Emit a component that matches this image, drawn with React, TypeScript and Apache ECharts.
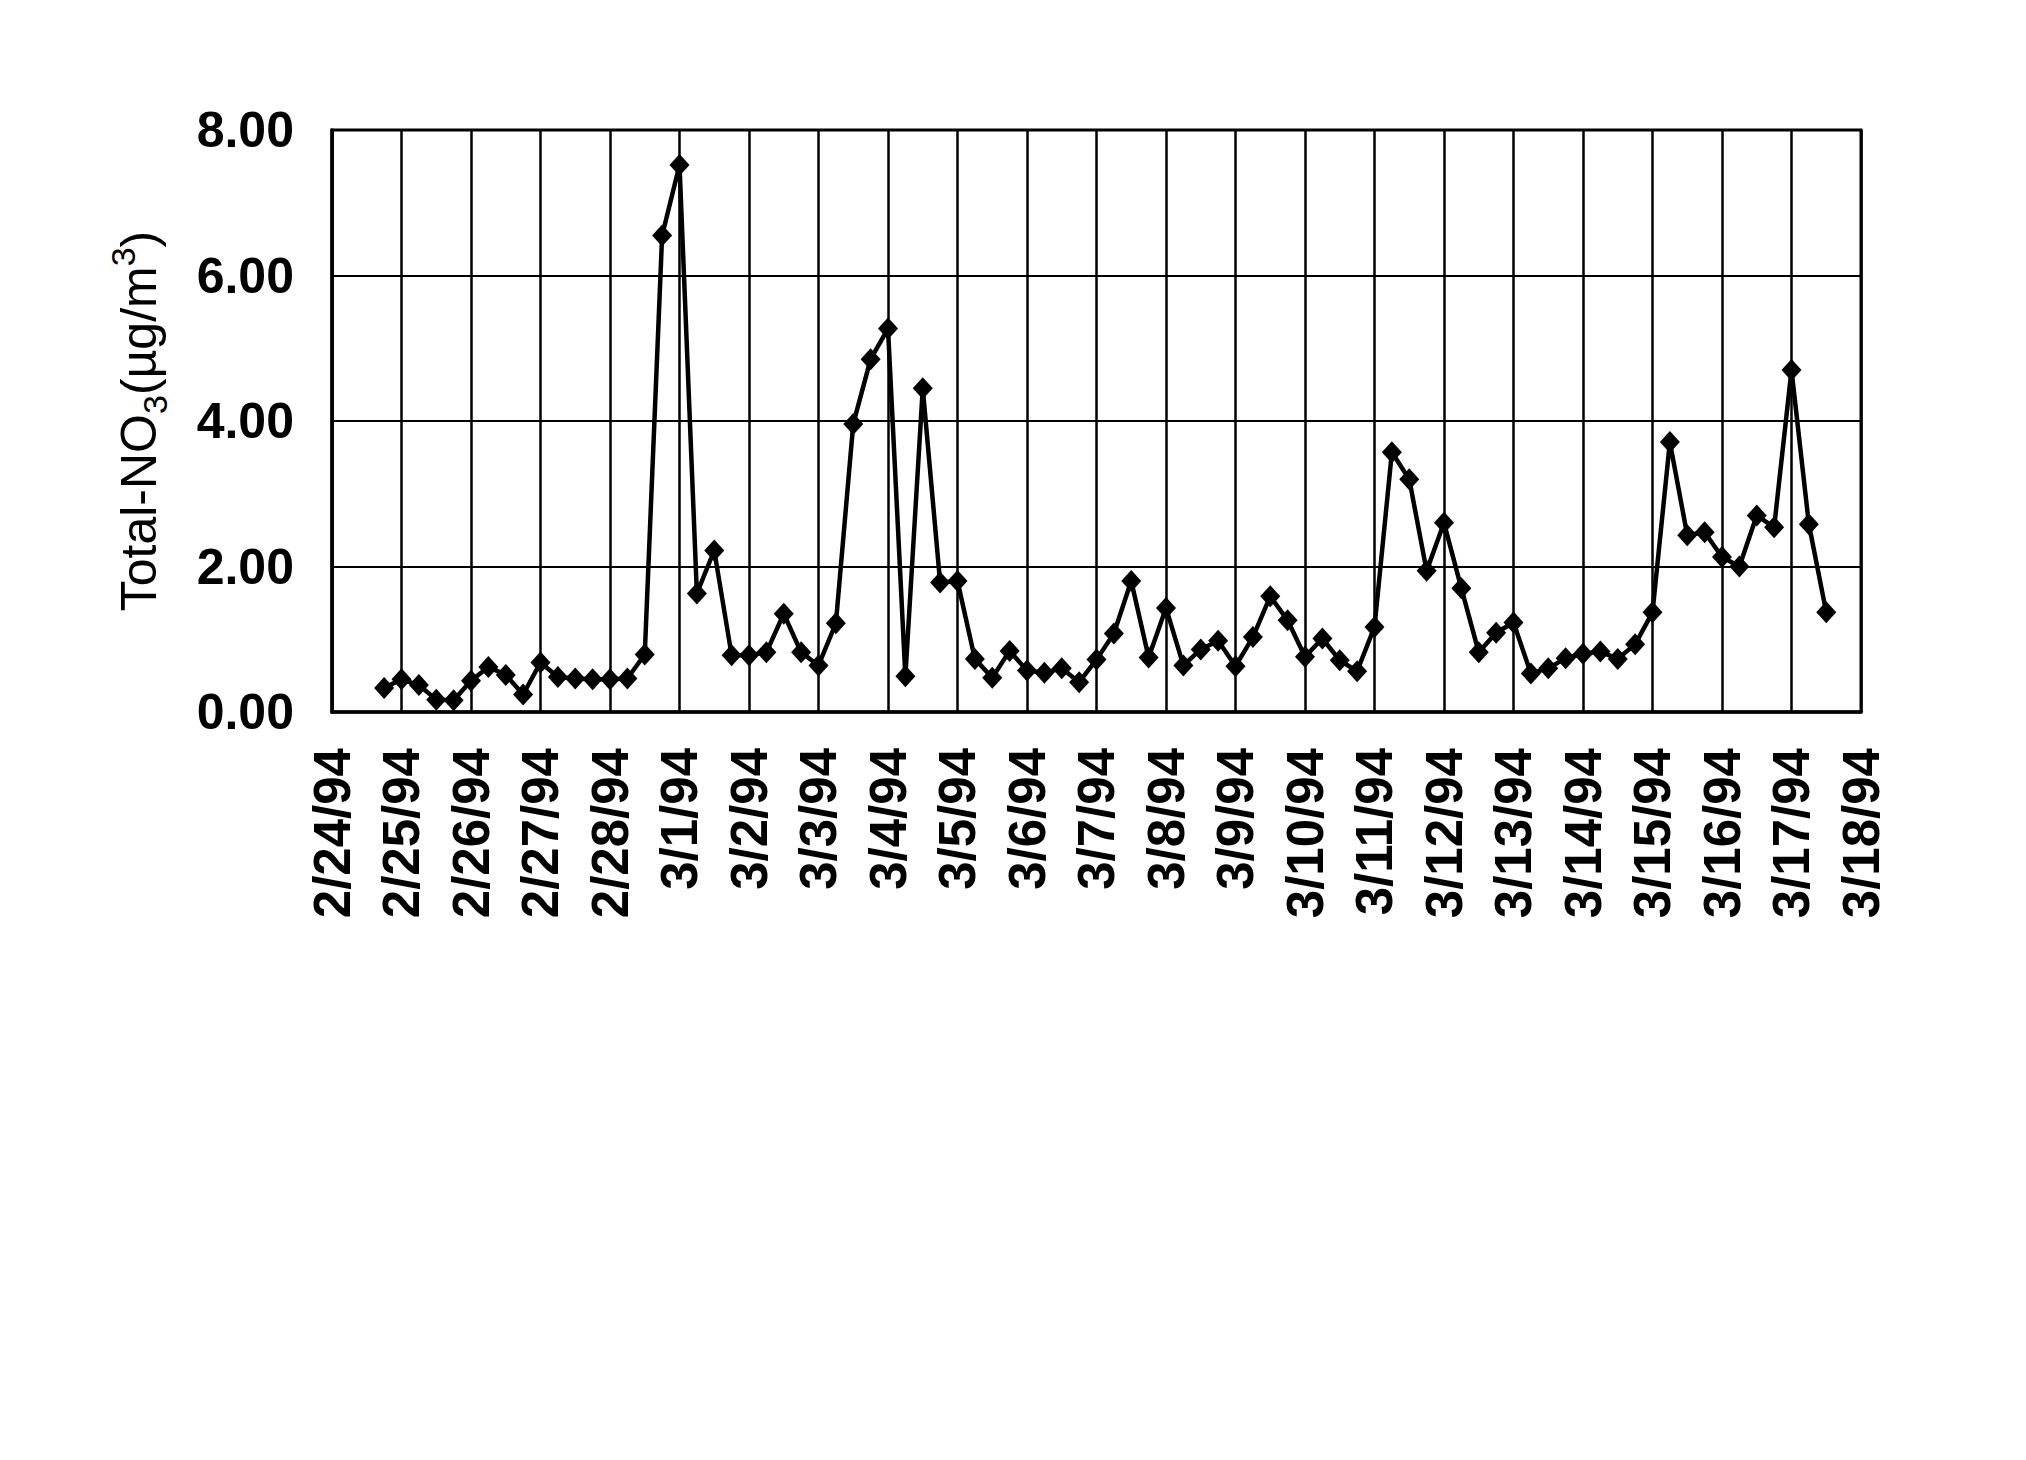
import React, { useEffect, useRef } from "react";
import * as echarts from "echarts";

// Day labels shown on the x axis (one gridline per day)
const dayLabels: string[] = [
  "2/24/94", "2/25/94", "2/26/94", "2/27/94", "2/28/94", "3/1/94", "3/2/94",
  "3/3/94", "3/4/94", "3/5/94", "3/6/94", "3/7/94", "3/8/94", "3/9/94",
  "3/10/94", "3/11/94", "3/12/94", "3/13/94", "3/14/94", "3/15/94",
  "3/16/94", "3/17/94", "3/18/94",
];
const sampleHours: string[] = ["00", "06", "12", "18"];

// Total-NO3 (µg/m3), 6-hourly samples from 2/24/94 18:00 to 3/17/94 12:00
const firstSampleIndex = 3; // 2/24/94 18:00
const totalNO3: number[] = [
  0.33,
  0.45, 0.37, 0.17, 0.16,
  0.43, 0.62, 0.51, 0.24,
  0.68, 0.48, 0.46, 0.45,
  0.45, 0.46, 0.79, 6.55,
  7.52, 1.63, 2.22, 0.78,
  0.78, 0.82, 1.35, 0.82,
  0.64, 1.22, 3.96, 4.85,
  5.27, 0.49, 4.45, 1.78,
  1.80, 0.73, 0.47, 0.84,
  0.57, 0.54, 0.60, 0.41,
  0.72, 1.08, 1.80, 0.75,
  1.43, 0.64, 0.86, 0.98,
  0.63, 1.03, 1.59, 1.26,
  0.76, 1.01, 0.71, 0.56,
  1.17, 3.57, 3.20, 1.94,
  2.60, 1.70, 0.82, 1.09,
  1.23, 0.53, 0.60, 0.74,
  0.80, 0.83, 0.73, 0.93,
  1.37, 3.71, 2.43, 2.47,
  2.13, 2.00, 2.70, 2.54,
  4.70, 2.58, 1.37,
];

const yTicks = { min: 0, max: 8, interval: 2 };

const FONT = "'Liberation Sans', Arial, Helvetica, sans-serif";

export default function App() {
  const ref = useRef<HTMLDivElement>(null);

  useEffect(() => {
    if (!ref.current) return;
    const chart = echarts.init(ref.current, null, { renderer: "svg" });

    const categories: string[] = [];
    dayLabels.forEach((d, i) => {
      if (i === dayLabels.length - 1) {
        categories.push(`${d} 00`);
      } else {
        sampleHours.forEach((h) => categories.push(`${d} ${h}`));
      }
    });
    const seriesData: (number | null)[] = categories.map((_, i) => {
      const k = i - firstSampleIndex;
      return k >= 0 && k < totalNO3.length ? totalNO3[k] : null;
    });

    chart.setOption({
      animation: false,
      backgroundColor: "#ffffff",
      grid: {
        left: 324,
        top: 122,
        width: 1529,
        height: 582,
        show: true,
        borderColor: "#000",
        borderWidth: 3,
        backgroundColor: "transparent",
      },
      xAxis: {
        type: "category",
        data: categories,
        boundaryGap: false,
        axisLine: { show: true, lineStyle: { color: "#000", width: 3.5 } },
        axisTick: { show: false },
        splitLine: {
          show: true,
          interval: 3,
          lineStyle: { color: "#000", width: 2.5 },
        },
        axisLabel: {
          interval: 3,
          rotate: 90,
          margin: 36,
          color: "#000",
          fontFamily: FONT,
          fontSize: 51,
          fontWeight: "bold",
          formatter: (v: string) => v.split(" ")[0],
        },
      },
      yAxis: {
        type: "value",
        min: yTicks.min,
        max: yTicks.max,
        interval: yTicks.interval,
        axisLine: { show: true, lineStyle: { color: "#000", width: 3.5 } },
        axisTick: { show: false },
        splitLine: { show: true, lineStyle: { color: "#000", width: 2.2 } },
        axisLabel: {
          margin: 38,
          color: "#000",
          fontFamily: FONT,
          fontSize: 50,
          fontWeight: "bold",
          formatter: (v: number) => v.toFixed(2),
        },
        name: "{a|Total-NO}{sub|3}{a|(µg/m}{sup|3}{a|)}",
        nameLocation: "middle",
        nameRotate: 90,
        nameGap: 160,
        nameTextStyle: {
          color: "#000",
          fontFamily: FONT,
          rich: {
            a: { fontSize: 50, fontFamily: FONT, color: "#000", lineHeight: 66 },
            sub: {
              fontSize: 34,
              fontFamily: FONT,
              color: "#000",
              lineHeight: 34,
              verticalAlign: "bottom",
            },
            sup: {
              fontSize: 34,
              fontFamily: FONT,
              color: "#000",
              lineHeight: 34,
              verticalAlign: "top",
            },
          },
        },
      },
      series: [
        {
          type: "line",
          data: seriesData,
          connectNulls: false,
          showSymbol: true,
          showAllSymbol: true,
          symbol: "diamond",
          symbolSize: [20, 22],
          lineStyle: { color: "#000", width: 4.5 },
          itemStyle: { color: "#000" },
          z: 5,
        },
      ],
    });

    return () => chart.dispose();
  }, []);

  return <div ref={ref} style={{ width: 2010, height: 1444 }} />;
}
